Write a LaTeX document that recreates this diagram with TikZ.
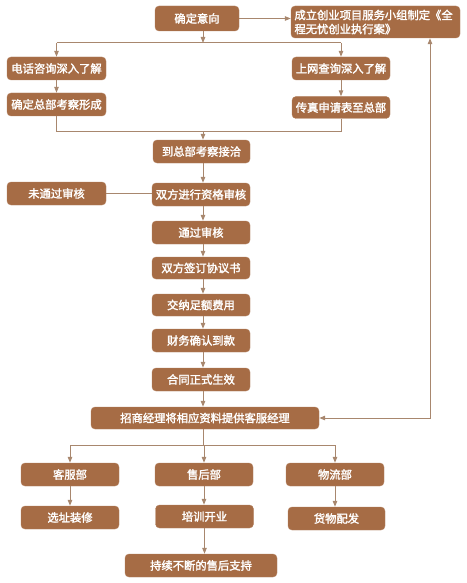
\documentclass[tikz,border=0pt]{standalone}
\usepackage{fontspec}
\newfontfamily\cjk{Noto Sans CJK SC}[FakeBold=2]
\usetikzlibrary{arrows.meta,calc}
\definecolor{boxbrown}{HTML}{A66C45}
\definecolor{linebrown}{HTML}{A8876E}
\tikzset{
  stepbox/.style={draw=boxbrown!85!white, fill=boxbrown, rounded corners=4pt, text=white,
    font=\cjk\fontsize{11.3}{14}\selectfont, inner sep=1pt, minimum height=23pt, minimum width=98pt},
  conn/.style={draw=linebrown, line width=1pt},
  arr/.style={conn, -{Triangle[length=6pt,width=4.5pt]}},
}
\begin{document}
\begin{tikzpicture}[x=1pt,y=-1pt]
\useasboundingbox (0,0) rectangle (466,583);
% nodes
\node[stepbox, minimum width=84pt, minimum height=25pt] (n1) at (197,18.5) {确定意向};
\node[stepbox, minimum width=169pt, minimum height=32pt, text width=162pt, align=left] (n2) at (375.5,22) {成立创业项目服务小组制定《全\\程无忧创业执行案》};
\node[stepbox, minimum width=99pt] (a1) at (56.5,68.5) {电话咨询深入了解};
\node[stepbox, minimum width=99pt] (a2) at (56.5,104.5) {确定总部考察形成};
\node[stepbox] (b1) at (341,68.5) {上网查询深入了解};
\node[stepbox, minimum height=22pt] (b2) at (341,107.5) {传真申请表至总部};
\node[stepbox, minimum width=97pt] (c) at (201.5,151.5) {到总部考察接洽};
\node[stepbox, minimum width=99pt] (r) at (56.5,193.5) {未通过审核};
\node[stepbox] (d) at (201,194.5) {双方进行资格审核};
\node[stepbox] (e) at (201,232.5) {通过审核};
\node[stepbox, minimum height=22pt] (f) at (201,268) {双方签订协议书};
\node[stepbox, minimum height=22pt] (g) at (201,305) {交纳足额费用};
\node[stepbox] (h) at (201,340.5) {财务确认到款};
\node[stepbox] (i) at (201,379.5) {合同正式生效};
\node[stepbox, minimum width=228pt, minimum height=22pt] (j) at (205,418) {招商经理将相应资料提供客服经理};
\node[stepbox] (k1) at (70,474.5) {客服部};
\node[stepbox] (k2) at (204,474.5) {售后部};
\node[stepbox] (k3) at (335,474.5) {物流部};
\node[stepbox] (l1) at (70,517.5) {选址装修};
\node[stepbox] (l2) at (204.5,516.5) {培训开业};
\node[stepbox, minimum width=97pt] (l3) at (336.5,518.5) {货物配发};
\node[stepbox, minimum width=152pt] (m) at (201,565.5) {持续不断的售后支持};
% coordinates
\coordinate (s1) at (203,43);
\coordinate (s2) at (203,131);
\coordinate (s3) at (203,445);
\coordinate (fb) at (430,418);
% top
\draw[arr] (n1.east) -- (n1.east -| n2.west);
\draw[arr] (s1 |- n1.south) -- (s1);
\draw[conn] (s1 -| a1) -- (s1 -| b1);
\draw[arr] (s1 -| a1) -- (a1.north);
\draw[arr] (s1 -| b1) -- (b1.north);
\draw[arr] (a1.south) -- (a2.north);
\draw[arr] (b1.south) -- (b2.north);
\draw[conn] (a2.south) -- (s2 -| a2) -- (s2 -| b2) -- (b2.south);
\draw[arr] (s2) -- (s2 |- c.north);
% spine
\draw[arr] (s2 |- c.south) -- (s2 |- d.north);
\draw[conn] (r.east) -- (d.west |- r.east);
\draw[arr] (s2 |- d.south) -- (s2 |- e.north);
\draw[arr] (s2 |- e.south) -- (s2 |- f.north);
\draw[arr] (s2 |- f.south) -- (s2 |- g.north);
\draw[arr] (s2 |- g.south) -- (s2 |- h.north);
\draw[arr] (s2 |- h.south) -- (s2 |- i.north);
\draw[arr] (s2 |- i.south) -- (s2 |- j.north);
% feedback
\draw[conn, {Triangle[length=6pt,width=4.5pt]}-{Triangle[length=6pt,width=4.5pt]}] (fb |- n2.south) -- (fb) -- (j.east);
% bottom
\draw[conn] (s2 |- j.south) -- (s3);
\draw[conn] (s3 -| k1) -- (s3 -| k3);
\draw[arr] (s3 -| k1) -- (k1.north);
\draw[arr] (s3 -| k2) -- (k2.north);
\draw[arr] (s3 -| k3) -- (k3.north);
\draw[arr] (k1.south) -- (l1.north);
\draw[arr] (k2.south) -- (k2.south |- l2.north);
\draw[arr] (k3.south) -- (k3.south |- l3.north);
\draw[arr] (l2.south) -- (l2.south |- m.north);
\end{tikzpicture}
\end{document}
